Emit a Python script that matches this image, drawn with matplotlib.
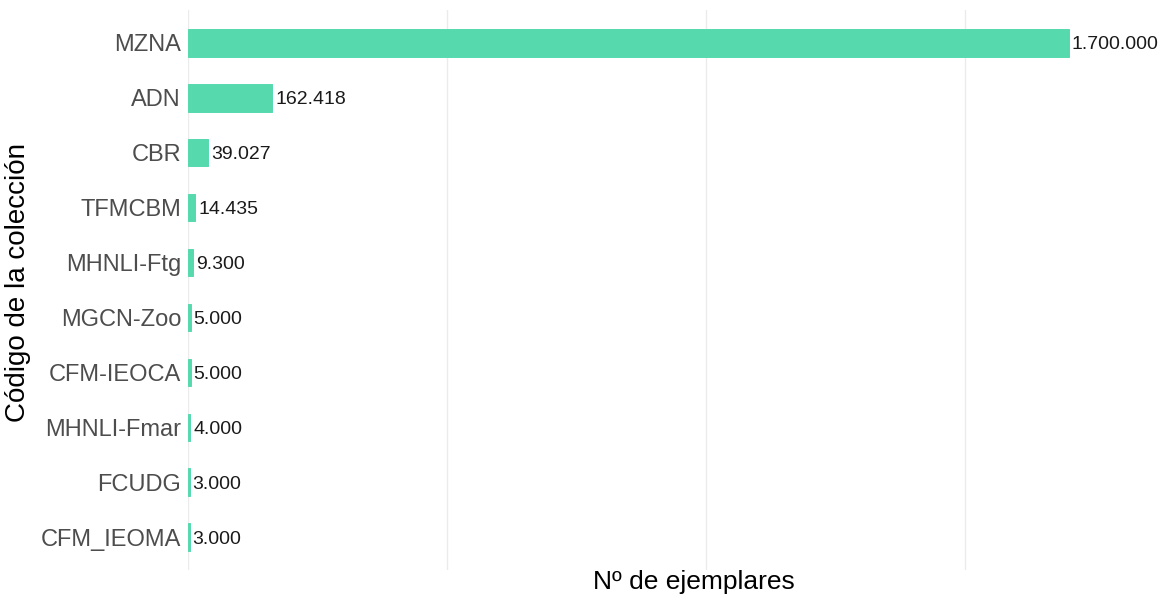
import matplotlib
matplotlib.use("Agg")
import matplotlib.pyplot as plt

plt.rcParams['font.family'] = ['Liberation Sans', 'DejaVu Sans']

codes = ["MZNA", "ADN", "CBR", "TFMCBM", "MHNLI-Ftg", "MGCN-Zoo", "CFM-IEOCA",
         "MHNLI-Fmar", "FCUDG", "CFM_IEOMA"]
values = [1700000, 162418, 39027, 14435, 9300, 5000, 5000, 4000, 3000, 3000]
labels = ["1.700.000", "162.418", "39.027", "14.435", "9.300", "5.000", "5.000",
          "4.000", "3.000", "3.000"]

fig = plt.figure(figsize=(11.61, 5.98), dpi=100)
ax = fig.add_axes([188/1161, (598-570)/598, (1160-188)/1161, 560/598])

n = len(codes)
ypos = list(range(n, 0, -1))
color = "#57d9ae"
ax.barh(ypos, values, height=0.5, color=color, edgecolor=color, linewidth=0.7, zorder=2)
for y, v, lab in zip(ypos, values, labels):
    ax.text(v + 6000, y, lab, va="center_baseline", ha="left", fontsize=14,
            color="#1a1a1a", zorder=3)

ax.set_ylim(0.4, n + 0.6)
ax.set_xlim(0, 1876000)
ax.set_xticks([0, 500000, 1000000, 1500000])
ax.set_xticklabels([])
ax.set_yticks(ypos)
ax.set_yticklabels(codes, fontsize=17, color="#4d4d4d")
ax.tick_params(axis="both", length=0, pad=5)
ax.grid(axis="x", color="#ebebeb", linewidth=1, zorder=0)
ax.grid(axis="y", visible=False)
for s in ax.spines.values():
    s.set_visible(False)

fig.text(694/1161, (598-582)/598, "Nº de ejemplares",
         fontsize=19, va="center", ha="center", color="black")
fig.text(18/1161, (598-283)/598, "Código de la colección", rotation=90,
         fontsize=20, va="center", ha="center", color="black")

fig.savefig("out.png", dpi=100)
